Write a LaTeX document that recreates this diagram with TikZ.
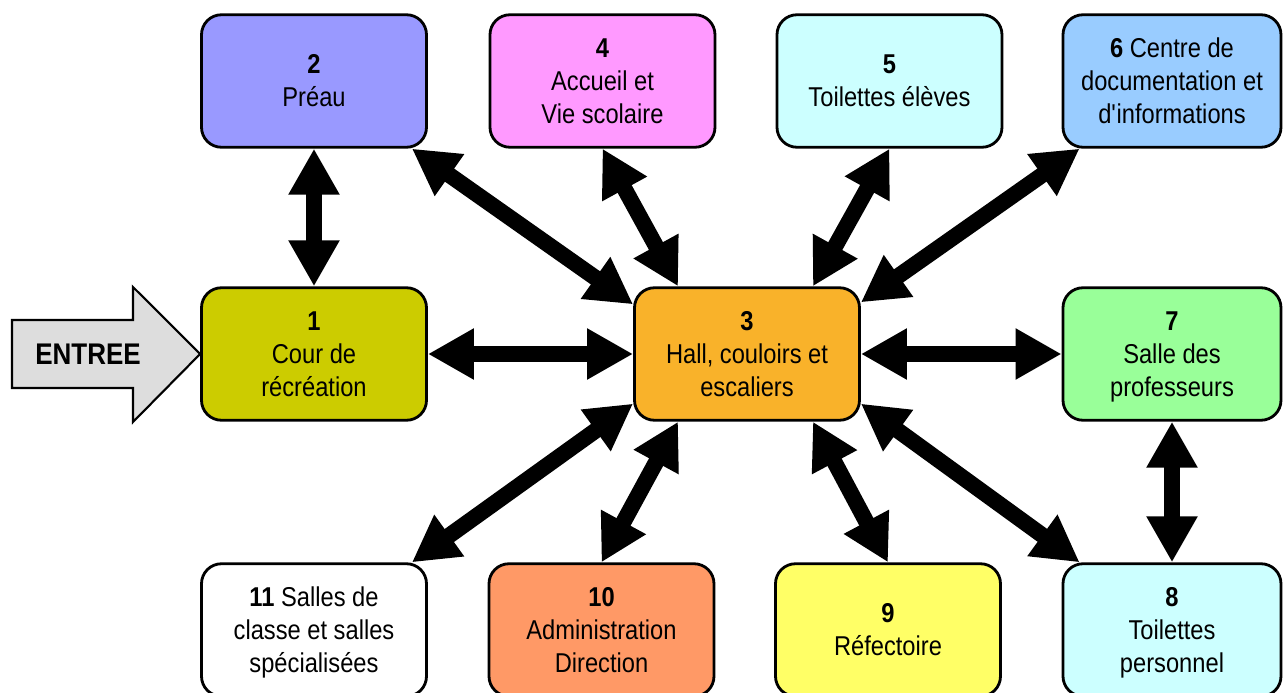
\documentclass[tikz,border=0pt]{standalone}
\usepackage{fontspec}
\setmainfont{Liberation Sans}[FakeStretch=0.87]
\usetikzlibrary{arrows.meta}
\definecolor{lavande}{HTML}{9999FF}
\definecolor{rose}{HTML}{FF99FF}
\definecolor{cyanpale}{HTML}{CCFFFF}
\definecolor{bleuciel}{HTML}{99CCFF}
\definecolor{olive}{HTML}{CCCC00}
\definecolor{orange}{HTML}{F9B22A}
\definecolor{vertpale}{HTML}{99FF99}
\definecolor{saumon}{HTML}{FF9966}
\definecolor{jaune}{HTML}{FFFF66}
\definecolor{grisclair}{HTML}{DDDDDD}
\tikzset{
    salle/.style={draw,line width=1.6pt,rounded corners=0.4cm,minimum width=4.5cm,
        minimum height=2.65cm,align=center,font=\fontsize{15.5}{18.8}\selectfont},
    salledroite/.style={salle,minimum width=4.36cm},
    fleche/.style={line width=0.32cm,
        {Triangle[length=0.92cm,width=0.96cm]}-{Triangle[length=0.92cm,width=0.96cm]}}
}
\newcommand{\lieu}[5]{
    \node[#1,fill=#4] (#2) at (#3) {\rule{0pt}{16pt}#5\strut};
}

\begin{document}
\begin{tikzpicture}
        \clip (0,0) rectangle (25.68,-13.86);

        \lieu{salle}{n2}{6.28,-1.62}{lavande}{\textbf{2}\\Préau}
        \lieu{salle}{n4}{12.05,-1.62}{rose}{\textbf{4}\\Accueil et\\Vie scolaire}
        \lieu{salle}{n5}{17.79,-1.62}{cyanpale}{\textbf{5}\\Toilettes élèves}
        \lieu{salledroite}{n6}{23.44,-1.62}{bleuciel}{\textbf{6} Centre de\\documentation et\\d\textquotesingle informations}

        \lieu{salle}{n1}{6.28,-7.08}{olive}{\textbf{1}\\Cour de\\récréation}
        \lieu{salle}{n3}{14.94,-7.08}{orange}{\textbf{3}\\Hall, couloirs et\\escaliers}
        \lieu{salledroite}{n7}{23.44,-7.08}{vertpale}{\textbf{7}\\Salle des\\professeurs}

        \lieu{salle}{n11}{6.28,-12.6}{white}{\textbf{11} Salles de\\classe et salles\\spécialisées}
        \lieu{salle}{n10}{12.03,-12.6}{saumon}{\textbf{10}\\Administration\\Direction}
        \lieu{salle}{n9}{17.76,-12.6}{jaune}{\textbf{9}\\Réfectoire}
        \lieu{salledroite}{n8}{23.44,-12.6}{cyanpale}{\textbf{8}\\Toilettes\\personnel}

        % entree
        \draw[line width=1.2pt,fill=grisclair] (0.24,-6.4) -- (2.66,-6.4) -- (2.66,-5.74)
            -- (n1.west) -- (2.66,-8.44) -- (2.66,-7.76) -- (0.24,-7.76) -- cycle;
        \node[font=\fontsize{17}{20}\selectfont\bfseries] (entree) at (1.76,-7.08) {ENTREE};

        % liaisons
        \draw[fleche] (n2.south) -- (n1.north);
        \draw[fleche] (n1.east) -- (n3.west);
        \draw[fleche] (n3.east) -- (n7.west);
        \draw[fleche] (n7.south) -- (n8.north);
        \draw[fleche] ([xshift=-0.32cm]n2.south east) -- ([yshift=-0.36cm]n3.north west);
        \draw[fleche] (n4.south) -- ([xshift=0.9cm]n3.north west);
        \draw[fleche] (n5.south) -- ([xshift=-0.96cm]n3.north east);
        \draw[fleche] ([xshift=0.36cm]n6.south west) -- ([yshift=-0.32cm]n3.north east);
        \draw[fleche] ([yshift=0.36cm]n3.south west) -- ([xshift=-0.32cm]n11.north east);
        \draw[fleche] ([xshift=0.9cm]n3.south west) -- (n10.north);
        \draw[fleche] ([xshift=-0.96cm]n3.south east) -- (n9.north);
        \draw[fleche] ([yshift=0.36cm]n3.south east) -- ([xshift=0.36cm]n8.north west);
    \end{tikzpicture}
\end{document}
